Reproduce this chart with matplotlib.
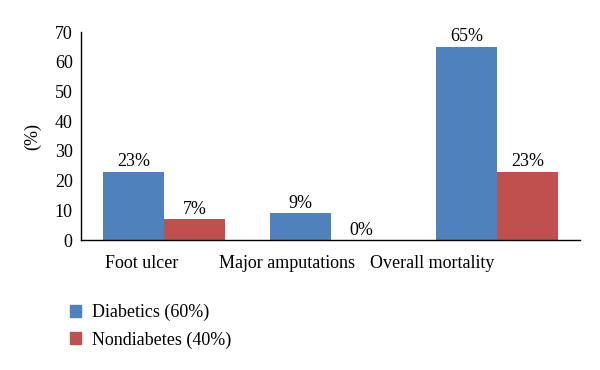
import matplotlib
matplotlib.use("Agg")
import matplotlib.pyplot as plt
import numpy as np
from matplotlib.patches import Patch

plt.rcParams["font.family"] = ["Liberation Serif", "DejaVu Serif"]

categories = ["Foot ulcer", "Major amputations", "Overall mortality"]
diabetics = [23, 9, 65]
nondiabetes = [7, 0, 23]
series_names = ["Diabetics (60%)", "Nondiabetes (40%)"]

BLUE = "#4F81BD"
RED = "#C0504D"

fig = plt.figure(figsize=(6, 3.7), dpi=100)
ax = fig.add_axes([0.135, 0.351, 0.832, 0.5625])

x = np.arange(len(categories))
w = 0.365
b1 = ax.bar(x - w / 2, diabetics, w, color=BLUE)
b2 = ax.bar(x + w / 2, nondiabetes, w, color=RED)

for bars, vals in [(b1, diabetics), (b2, nondiabetes)]:
    for b, v in zip(bars, vals):
        ax.annotate(f"{v}%", (b.get_x() + b.get_width() / 2, v),
                    textcoords="offset points", xytext=(0, 1),
                    ha="center", va="bottom", fontsize=13)

ax.set_xlim(-0.5, 2.5)
ax.set_ylim(0, 70)
ax.set_yticks(range(0, 71, 10))
# category labels sit a little left of the bar groups in the original
ax.set_xticks(x * 0.872 - 0.133)
ax.set_xticklabels(categories)
ax.tick_params(axis="both", length=0, labelsize=13)
ax.tick_params(axis="x", pad=11)
ax.tick_params(axis="y", pad=6)
ax.set_ylabel("(%)", fontsize=13, labelpad=10)
for s in ["top", "right"]:
    ax.spines[s].set_visible(False)
ax.spines["left"].set_linewidth(1.0)
ax.spines["bottom"].set_linewidth(1.0)

handles = [Patch(color=BLUE), Patch(color=RED)]
fig.legend(handles, series_names, loc="upper left", bbox_to_anchor=(0.105, 0.198),
           frameon=False, fontsize=13, handlelength=0.6, handleheight=0.6,
           handletextpad=0.6, labelspacing=0.55, borderaxespad=0)

fig.savefig("out.png", dpi=100)
